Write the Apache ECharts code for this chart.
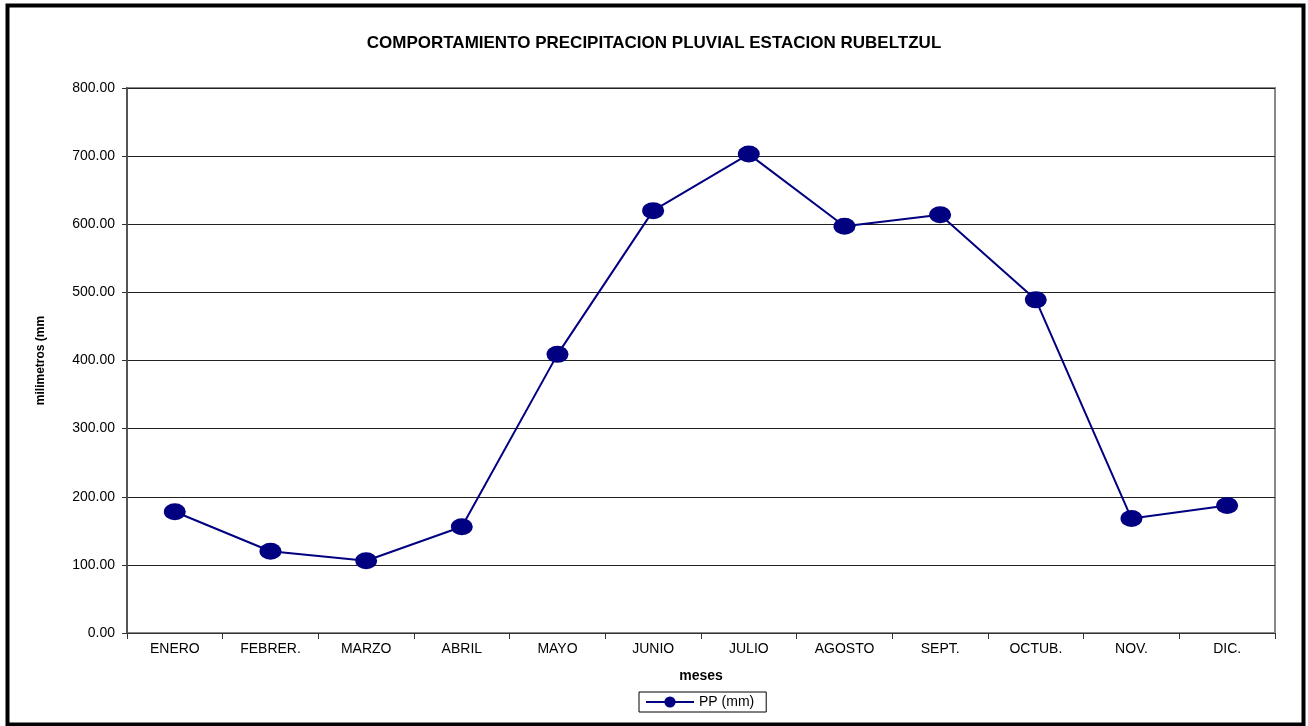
<!DOCTYPE html>
<html>
<head>
<meta charset="utf-8">
<script src="https://cdn.jsdelivr.net/npm/echarts@6/dist/echarts.min.js"></script>
<style>
html,body{margin:0;padding:0;background:#fff;}
#chart{width:1308px;height:726px;}
</style>
</head>
<body>
<div id="chart"></div>
<script>
const months = ['ENERO','FEBRER.','MARZO','ABRIL','MAYO','JUNIO','JULIO','AGOSTO','SEPT.','OCTUB.','NOV.','DIC.'];
const ppValues = [178, 120, 106, 156, 409, 620, 703, 597, 614, 489, 168, 187];
const titleText = 'COMPORTAMIENTO PRECIPITACION PLUVIAL ESTACION RUBELTZUL';
const seriesName = 'PP (mm)';
const yAxisName = 'milimetros (mm';
const xAxisName = 'meses';

const chart = echarts.init(document.getElementById('chart'), null, {renderer: 'canvas'});
const font = '"Liberation Sans", Arial, sans-serif';
chart.setOption({
  animation: false,
  backgroundColor: '#fff',
  textStyle: {fontFamily: font},
  title: {
    text: titleText,
    left: 'center', top: 30,
    textStyle: {fontFamily: font, fontSize: 17, fontWeight: 'bold', color: '#000'}
  },
  graphic: [{
    type: 'rect', left: 5, top: 3,
    shape: {width: 1296, height: 719},
    style: {fill: 'none', stroke: '#000', lineWidth: 4},
    z: 100
  }],
  grid: {left: 127, right: 33, top: 88, bottom: 93, show: true, borderColor: '#888', borderWidth: 2, backgroundColor: '#fff'},
  legend: {
    data: [seriesName],
    bottom: 14, left: 639,
    itemWidth: 48, itemHeight: 14, itemGap: 6,
    padding: [3, 12, 3, 6],
    borderColor: '#000', borderWidth: 1, borderRadius: 0,
    textStyle: {fontFamily: font, fontSize: 14, color: '#000'}
  },
  xAxis: {
    type: 'category', data: months, boundaryGap: true,
    name: xAxisName, nameLocation: 'middle', nameGap: 36,
    nameTextStyle: {fontFamily: font, fontSize: 14, fontWeight: 'bold', color: '#000'},
    axisLine: {lineStyle: {color: '#333', width: 1}},
    axisTick: {show: true, length: 6, lineStyle: {color: '#333'}},
    axisLabel: {fontFamily: font, fontSize: 14, color: '#000', margin: 9}
  },
  yAxis: {
    type: 'value', min: 0, max: 800, interval: 100,
    name: yAxisName, nameLocation: 'middle', nameGap: 80, nameRotate: 90,
    nameTextStyle: {fontFamily: font, fontSize: 12, fontWeight: 'bold', color: '#000'},
    axisLine: {show: true, lineStyle: {color: '#555', width: 2}},
    axisTick: {show: true, length: 5, lineStyle: {color: '#333'}},
    axisLabel: {fontFamily: font, fontSize: 14, color: '#000', margin: 12, formatter: v => v.toFixed(2)},
    splitLine: {show: true, lineStyle: {color: '#222', width: 1}}
  },
  series: [{
    name: seriesName, type: 'line', data: ppValues,
    symbol: 'circle', symbolSize: [22, 17],
    itemStyle: {color: '#000080'},
    lineStyle: {color: '#000080', width: 2}
  }]
});
</script>
</body>
</html>
